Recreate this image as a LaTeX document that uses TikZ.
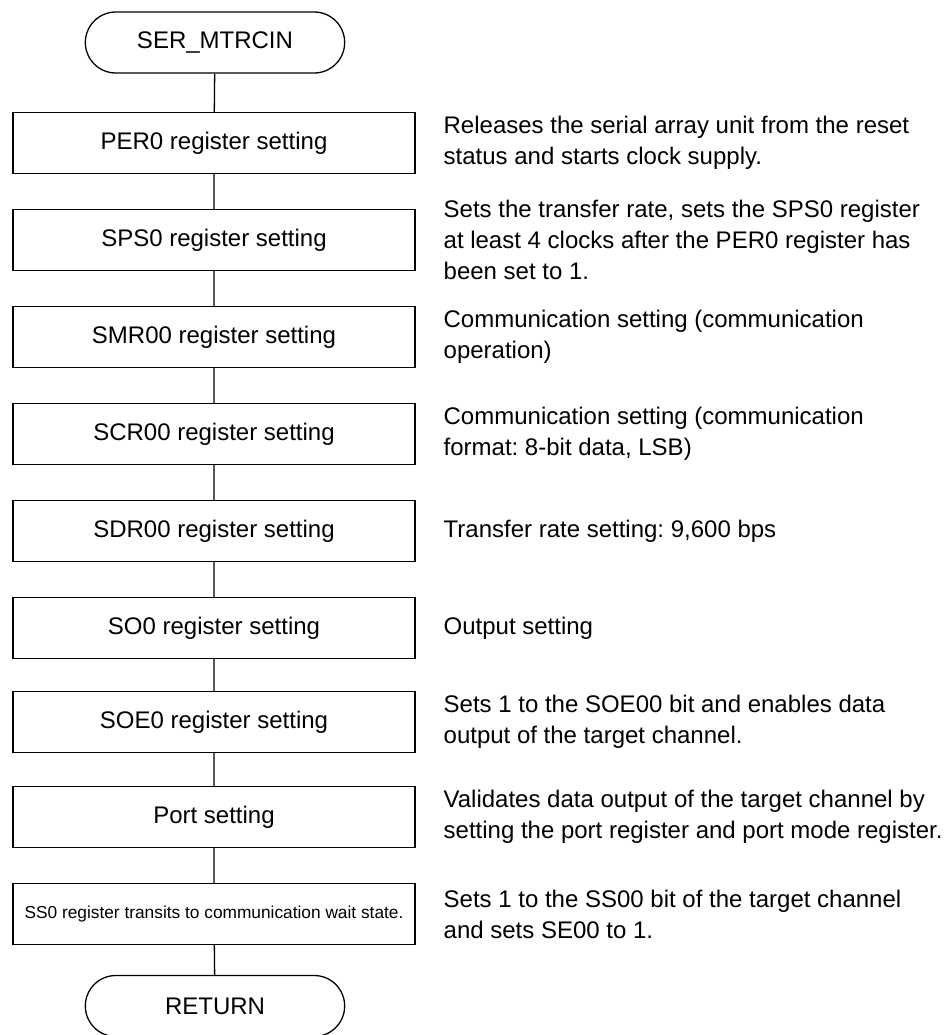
\documentclass[tikz,border=0pt]{standalone}
\usepackage{fontspec}
\setmainfont{Liberation Sans}
\usetikzlibrary{shapes.misc}
\frenchspacing

\begin{document}
\begin{tikzpicture}[x=1pt, y=-1pt, line width=1.3pt,
    term/.style={draw, rounded rectangle, minimum width=266pt, minimum height=61pt,
      font=\fontsize{24}{28}\selectfont},
    procbox/.style={draw, minimum width=402pt, minimum height=61pt, inner sep=2pt,
      font=\fontsize{24}{28}\selectfont},
    note/.style={anchor=west, align=left, inner sep=0pt,
      font=\fontsize{24}{31}\selectfont}]
  \useasboundingbox (0,0) rectangle (945,1035);

  % flow
  \node[term] (start) at (215,42.5) {SER\_MTRCIN};
  \node[procbox] (per) at (214,143) {PER0 register setting};
  \node[procbox] (sps) at (214,240) {SPS0 register setting};
  \node[procbox] (smr) at (214,337) {SMR00 register setting};
  \node[procbox] (scr) at (214,434) {SCR00 register setting};
  \node[procbox] (sdr) at (214,531) {SDR00 register setting};
  \node[procbox] (so) at (214,628) {SO0 register setting};
  \node[procbox] (soe) at (214,722) {SOE0 register setting};
  \node[procbox] (port) at (214,817) {Port setting};
  \node[procbox, font=\fontsize{17.3}{20}\selectfont] (ss) at (214,914)
    {SS0 register transits to communication wait state.};
  \node[term] (ret) at (215,1006) {RETURN};

  \draw (start) -- (per) -- (sps) -- (smr) -- (scr) -- (sdr) -- (so) -- (soe)
    -- (port) -- (ss) -- (ret);

  % comments
  \node[note] (nper) at (443,143) {Releases the serial array unit from the reset\\status and starts clock supply.};
  \node[note] (nsps) at (443,240) {Sets the transfer rate, sets the SPS0 register\\at least 4 clocks after the PER0 register has\\been set to 1.};
  \node[note] (nsmr) at (443,337) {Communication setting (communication\\operation)};
  \node[note] (nscr) at (443,434) {Communication setting (communication\\format: 8-bit data, LSB)};
  \node[note] (nsdr) at (443,531) {Transfer rate setting: 9,600 bps};
  \node[note] (nso) at (443,628) {Output setting};
  \node[note] (nsoe) at (443,722) {Sets 1 to the SOE00 bit and enables data\\output of the target channel.};
  \node[note] (nport) at (443,817) {Validates data output of the target channel by\\setting the port register and port mode register.};
  \node[note] (nss) at (443,914) {Sets 1 to the SS00 bit of the target channel\\and sets SE00 to 1.};
\end{tikzpicture}
\end{document}
